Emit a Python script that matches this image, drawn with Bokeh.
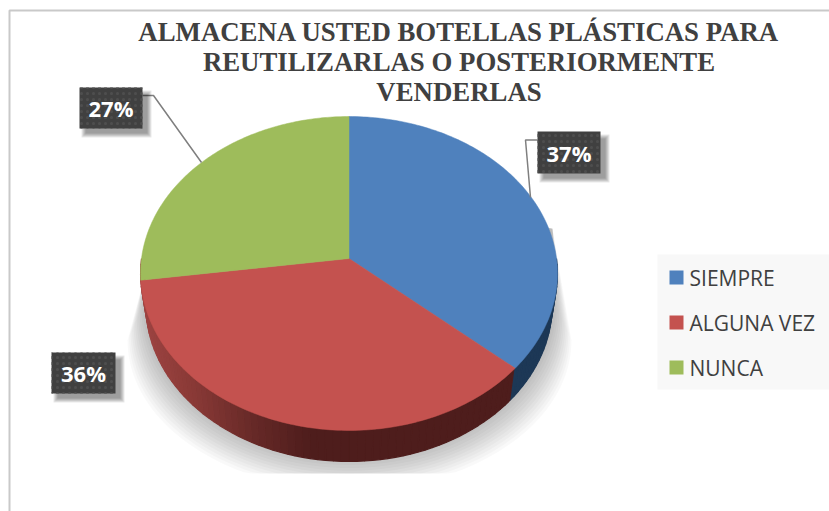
import numpy as np
from bokeh.embed import file_html
from bokeh.resources import INLINE
from bokeh.plotting import figure
from bokeh.models import Range1d
from bokeh.core.properties import value

title_lines = ["ALMACENA USTED BOTELLAS PLÁSTICAS PARA", "REUTILIZARLAS O POSTERIORMENTE", "VENDERLAS"]
categories = ["SIEMPRE", "ALGUNA VEZ", "NUNCA"]
shares = [36.5, 36.3, 27.2]
labels = ["37%", "36%", "27%"]
colors = ["#4f81bd", "#c4524f", "#9ebc5b"]

W, H = 829, 511
p = figure(width=W, height=H, output_backend="svg", toolbar_location=None,
           x_range=Range1d(0, W), y_range=Range1d(H, 0),
           min_border=0, outline_line_color=None, background_fill_color="white",
           border_fill_color="white")
p.axis.visible = False
p.grid.visible = False

AX, AY = 348.5, 258.0   # apex of the pie in perspective
RX = 207.5
PC, PA = 0.0955, -130.9
DEPTH, SHRINK = 31.0, 0.975
CLIP_Y = 473.0


def rim(theta):
    u, v = np.sin(theta), np.cos(theta)
    d = 1 + PC * v
    return AX + RX * u / d, (PA * v + AY) / d


def low_rim(theta):
    x, y = rim(theta)
    return AX + SHRINK * (x - AX), y + DEPTH


# chart frame
p.line([9, 9, 829], [511, 10, 10], line_color="#c9c9c9", line_width=2)

# soft shadow under the pie
for k in np.linspace(1, 0, 12):
    rx, ry, cy = 205 + 17 * k, 156 - 6 * k, 303.0 + 37 * k
    t = np.linspace(0, np.pi, 80)
    sx = 349 + rx * np.cos(t)
    sy = np.minimum(cy + ry * np.sin(t), CLIP_Y)
    xs = np.r_[sx, 143, 349, 552]
    ys = np.r_[sy, 280, 200, 228]
    p.patch(xs, ys, fill_color="#000000", fill_alpha=0.022, line_color=None)

# side wall, from the right tangent around to the left tangent
edges = np.cumsum([0] + shares) / sum(shares) * 2 * np.pi
t_side = np.linspace(np.radians(90), np.radians(270), 91)
for a, b in zip(t_side[:-1], t_side[1:]):
    m = (a + b) / 2
    xa, ya = rim(np.array([a, b]))
    xb, yb = low_rim(np.array([b, a]))
    if m < edges[1]:
        col = "#1d3856"
    else:
        xm = rim(m)[0]
        r = np.interp(xm, [145, 190, 250, 310], [156, 138, 104, 78])
        g = np.interp(xm, [145, 190, 250, 310], [67, 58, 42, 29])
        bl = np.interp(xm, [145, 190, 250, 310], [65, 55, 40, 28])
        col = "#%02x%02x%02x" % (int(r), int(g), int(bl))
    p.patch(np.r_[xa, xb], np.r_[ya, yb], fill_color=col, line_color=col, line_width=1.2)

# top faces
for i, cat in enumerate(categories):
    t = np.linspace(edges[i], edges[i + 1], 120)
    x, y = rim(t)
    p.patch(np.r_[AX, x], np.r_[AY, y], fill_color=colors[i], line_color=colors[i], line_width=0.5)

# leader lines
p.line([142, 153, 201], [95, 95, 162], line_color="#7f7f7f", line_width=1.5)
p.line([537, 525, 530], [139.5, 139.5, 197], line_color="#7f7f7f", line_width=1.5)

# data labels
boxes = [(537, 600, 131, 173), (51, 115, 352, 393), (79, 142, 87, 128)]
for (l, rr, t, b), s in zip(boxes, labels):
    for g in range(5):
        p.quad(left=l + 2 + g, right=rr + 9 - g, top=t + 3 + g, bottom=b + 9 - g,
               fill_color="#000000", fill_alpha=0.09, line_color=None)
    p.quad(left=l, right=rr, top=t, bottom=b, fill_color="#404040", line_color=None,
           hatch_pattern="dot", hatch_color="#4e4e4e", hatch_scale=6, hatch_weight=1)
    p.text([(l + rr) / 2], [(t + b) / 2], text=[s], text_color="#ffffff",
           text_font=value("Open Sans"), text_font_style="bold", text_font_size="22px",
           text_align="center", text_baseline="middle")

# title
for line, yy in zip(title_lines, [31, 61, 91]):
    p.text([458.5], [yy], text=[line], text_color="#404040",
           text_font=value("Liberation Serif"), text_font_style="bold", text_font_size="26.8px",
           text_align="center", text_baseline="middle")

# legend
p.quad(left=657, right=829, top=254, bottom=389, fill_color="#f8f8f8", line_color=None)
for i, (cat, col, yy) in enumerate(zip(categories, colors, [277, 322, 367])):
    p.quad(left=669, right=683, top=yy - 7, bottom=yy + 7, fill_color=col, line_color=None)
    p.text([689], [yy], text=[cat], text_color="#404040", text_font=value("Open Sans"),
           text_font_size="21px", text_align="left", text_baseline="middle")

open("out.html", "w").write(file_html(p, INLINE))
